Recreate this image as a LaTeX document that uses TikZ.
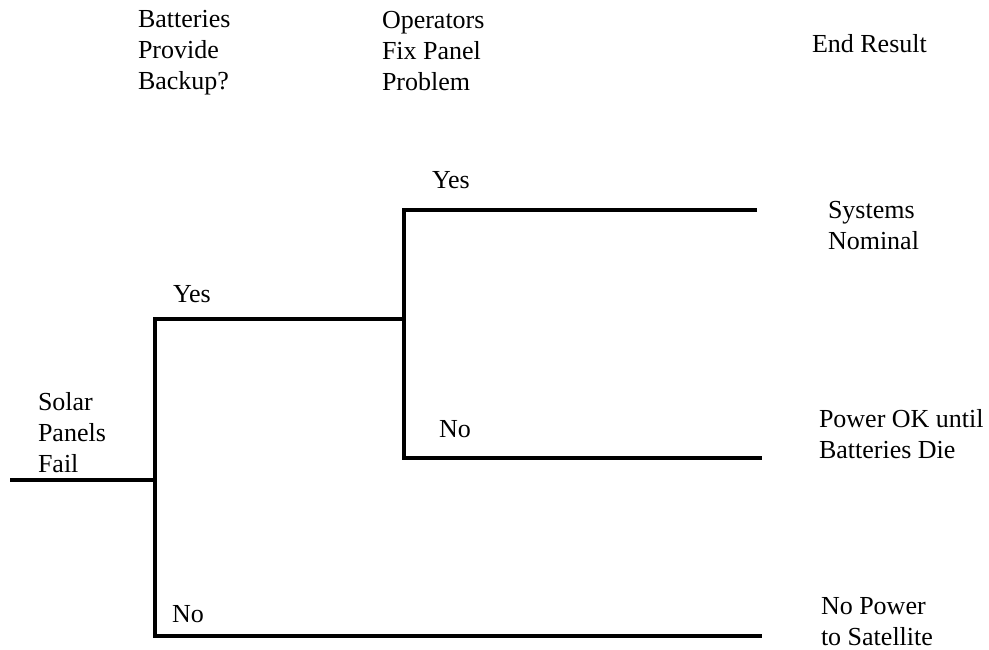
\documentclass[tikz,border=0pt]{standalone}
\usepackage{fontspec}
\setmainfont{Liberation Serif}
\begin{document}
\begin{tikzpicture}[x=1pt,y=-1pt,
  branch/.style={line width=3.5pt,line cap=butt,line join=miter},
  lbl/.style={anchor=base west,inner sep=0pt,outer sep=0pt,font=\fontsize{26}{31}\selectfont},
]
\useasboundingbox (0,0) rectangle (989,649);

% column headings
\node[lbl] (hdA) at (138,27) {\begin{tabular}[t]{@{}l@{}}Batteries\\Provide\\Backup?\end{tabular}};
\node[lbl] (hdB) at (382,28) {\begin{tabular}[t]{@{}l@{}}Operators\\Fix Panel\\Problem\end{tabular}};
\node[lbl] (hdC) at (812,52) {End Result};

% tree junctions and leaf ends
\coordinate (root) at (10,480);
\coordinate (j1)   at (155,480);
\coordinate (y1)   at (155,319);
\coordinate (n1)   at (155,636);
\coordinate (j2)   at (404,319);
\coordinate (y2)   at (404,210);
\coordinate (n2)   at (404,458);
\coordinate (e1)   at (757,210);
\coordinate (e2)   at (762,458);
\coordinate (e3)   at (762,636);

% branches
\draw[branch] (root) -- (j1);
\draw[branch] (j2) -- (y1) -- (n1) -- (e3);
\draw[branch] (e1) -- (y2) -- (n2) -- (e2);

% initiating event
\node[lbl] (init) at (38,410) {\begin{tabular}[t]{@{}l@{}}Solar\\Panels\\Fail\end{tabular}};

% branch labels
\node[lbl] (yesA) at (173,302) {Yes};
\node[lbl] (noA)  at (172,622) {No};
\node[lbl] (yesB) at (432,188) {Yes};
\node[lbl] (noB)  at (439,437) {No};

% outcomes
\node[lbl] (out1) at (828,218) {\begin{tabular}[t]{@{}l@{}}Systems\\Nominal\end{tabular}};
\node[lbl] (out2) at (819,427) {\begin{tabular}[t]{@{}l@{}}Power OK until\\Batteries Die\end{tabular}};
\node[lbl] (out3) at (821,614) {\begin{tabular}[t]{@{}l@{}}No Power\\to Satellite\end{tabular}};
\end{tikzpicture}
\end{document}
